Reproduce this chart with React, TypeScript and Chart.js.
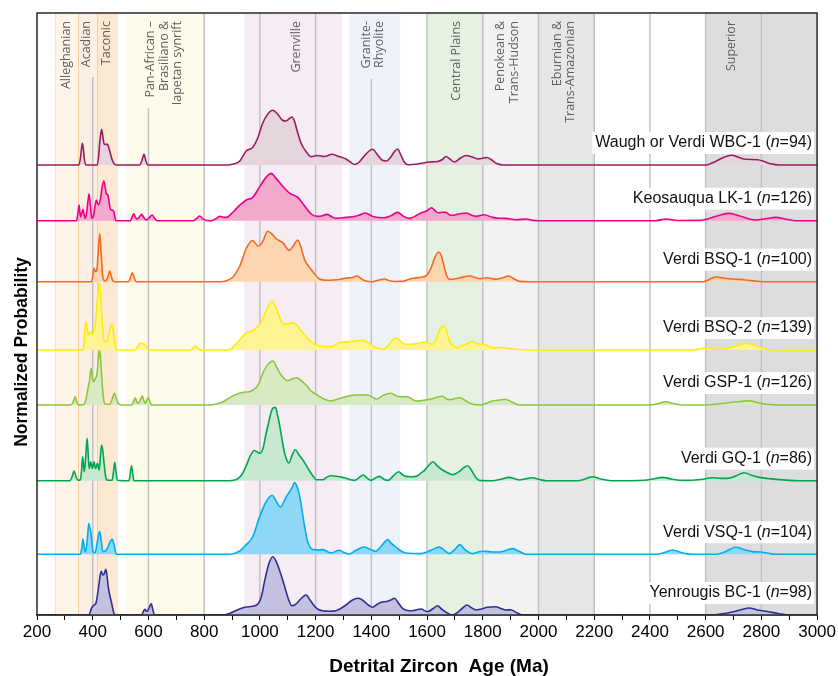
import React, { useEffect, useRef } from 'react';
import { Chart, registerables } from 'chart.js';

Chart.register(...registerables);

// ---------- data ----------
const ageMin = 200;
const ageMax = 3000;

const sampleNames = [
  'Waugh or Verdi WBC-1',
  'Keosauqua LK-1',
  'Verdi BSQ-1',
  'Verdi BSQ-2',
  'Verdi GSP-1',
  'Verdi GQ-1',
  'Verdi VSQ-1',
  'Yenrougis BC-1',
];
const sampleCounts = [94, 126, 100, 139, 126, 86, 104, 98];

// vertical offset of each stacked curve (in the shared probability units)
const rowOffsets = [450, 394.3, 333.3, 265, 210, 134.3, 60.7, 0];

// [age (Ma), normalized probability]
const wbc1: [number, number][] = [
  [200, 0], [350, 0], [356, 7], [360, 17], [363, 21.7], [366, 17], [370, 6], [375, 0],
  [416, 0], [421, 8], [426, 25], [432, 35.7], [437, 27], [441, 21], [446, 20.5], [452, 21], [458, 17], [463, 12], [470, 5], [478, 1], [486, 0],
  [568, 0], [576, 4], [584, 10.7], [591, 4], [598, 0],
  [880, 0], [905, 1], [928, 4], [951, 14], [974, 17.5], [992, 26.7], [1010, 41.7], [1028, 50.7], [1046, 54.7], [1064, 50.7], [1080, 45], [1092, 44], [1104, 46], [1115, 48], [1124, 44], [1132, 36], [1148, 21.7], [1166, 13.3], [1184, 8.3], [1208, 9.5], [1231, 8.5], [1259, 10.7], [1285, 8.3], [1309, 6], [1325, 3], [1339, 0.5], [1355, 2.5], [1372, 8], [1390, 13.5], [1405, 15.7], [1420, 11], [1438, 5], [1455, 4], [1470, 8], [1482, 13], [1494, 16], [1506, 10], [1518, 3], [1532, 0.3], [1560, 0.7], [1585, 2], [1608, 3], [1638, 3.5], [1655, 5.5], [1668, 8.5], [1682, 6], [1698, 3], [1718, 6.5], [1740, 9.5], [1762, 8], [1785, 6], [1815, 7.5], [1832, 5], [1850, 1.5], [1875, 0],
  [2600, 0], [2625, 2.3], [2660, 7], [2693, 9.7], [2720, 7.5], [2744, 5.7], [2786, 5.3], [2810, 3.5], [2830, 1.5], [2864, 0], [3000, 0],
];

const lk1: [number, number][] = [
  [200, 0], [342, 0], [347, 8], [351, 15.7], [354, 8], [357, 4], [361, 8], [365, 11.3], [369, 6], [373, 2.3], [378, 8], [383, 20], [387, 26.7], [392, 14], [397, 2.3], [403, 5], [408, 14], [413, 20.7], [418, 17], [421, 15.7], [428, 22], [434, 34], [440, 40], [445, 33], [449, 27], [454, 26], [458, 20], [462, 13], [467, 10.7], [472, 10.5], [476, 9], [480, 3], [484, 0],
  [535, 0], [541, 3.5], [547, 7], [553, 3.5], [559, 1.7], [567, 3.5], [575, 6.3], [584, 3], [593, 0.7], [603, 3], [613, 5.7], [622, 2.5], [631, 0],
  [760, 0], [772, 2], [784, 4.7], [795, 2], [805, 0.5], [826, 0], [845, 2.5], [856, 4.3], [868, 3.5], [880, 3.3], [898, 7], [916, 12.3], [934, 17], [951, 20.7], [974, 23.3], [998, 33.3], [1022, 43.3], [1040, 47.3], [1058, 42.3], [1082, 34.3], [1106, 27.7], [1136, 23.3], [1160, 15], [1184, 6.7], [1208, 4.3], [1225, 5], [1240, 6.3], [1258, 4], [1273, 2.3], [1297, 3], [1333, 4], [1355, 5.5], [1378, 7.7], [1405, 4.3], [1447, 3], [1470, 5], [1494, 8.3], [1515, 4.5], [1536, 2.3], [1560, 5], [1578, 7.7], [1600, 10], [1616, 13], [1632, 9], [1644, 7.7], [1656, 8.5], [1668, 8.3], [1685, 5.5], [1698, 5.7], [1720, 7], [1740, 7.7], [1760, 5.5], [1776, 4.3], [1805, 6], [1835, 3.3], [1860, 2.5], [1883, 2.3], [1919, 1], [1957, 1.7], [1980, 0.3], [2003, 0],
  [2420, 0], [2457, 1.7], [2500, 0.2], [2580, 0.3], [2613, 2.3], [2650, 5.5], [2685, 7.3], [2720, 5], [2760, 1.5], [2780, 0.7], [2815, 2], [2852, 3.3], [2890, 1.5], [2924, 0], [3000, 0],
];

const bsq1: [number, number][] = [
  [200, 0], [395, 0], [400, 5], [405, 13.3], [410, 10], [415, 12], [420, 30], [425, 48.3], [430, 30], [435, 7], [440, 1.5], [446, 0.5], [452, 3], [457, 7], [461, 10.7], [466, 6], [471, 1.5], [479, 0],
  [528, 0], [535, 4], [542, 9], [549, 4], [556, 0],
  [860, 0], [880, 1], [904, 5], [928, 15.7], [951, 33], [973, 41.2], [995, 35.5], [1010, 40], [1028, 50.5], [1045, 47], [1058, 43], [1082, 39], [1106, 31.3], [1120, 36], [1136, 41.7], [1148, 34], [1160, 22.3], [1184, 12.3], [1213, 3], [1240, 1.5], [1261, 1.7], [1290, 2.5], [1309, 3.7], [1330, 4], [1348, 5.7], [1362, 3.5], [1375, 1.3], [1405, 0], [1425, 1.5], [1447, 2.7], [1465, 1], [1482, 0.2], [1512, 0.3], [1535, 2.5], [1554, 3.7], [1580, 4.5], [1596, 5.7], [1612, 12], [1626, 23], [1642, 29.7], [1650, 27], [1658, 19], [1668, 8], [1680, 2.3], [1716, 3.7], [1752, 5.7], [1788, 3], [1817, 4], [1847, 2.3], [1872, 4], [1893, 5.7], [1912, 3], [1931, 0.3], [1967, 0],
  [2590, 0], [2615, 2.5], [2637, 4.7], [2665, 3.5], [2696, 2.7], [2744, 1.7], [2780, 0.5], [2804, 0], [3000, 0],
];

const bsq2: [number, number][] = [
  [200, 0], [365, 0], [370, 12], [376, 28.3], [381, 20], [385, 15], [389, 17.5], [393, 17.7], [398, 15], [404, 18], [409, 25], [414, 40], [419, 58], [423, 66.7], [427, 58], [431, 41.7], [436, 20], [440, 8.3], [449, 8.3], [456, 13], [463, 22], [468, 25.7], [473, 20], [477, 11.7], [481, 4], [486, 0],
  [551, 0], [560, 3], [569, 6.7], [580, 6.5], [589, 5], [599, 0],
  [750, 0], [760, 2], [768, 4.3], [776, 2], [786, 0],
  [890, 0], [916, 6.7], [951, 17], [980, 20], [1004, 27.3], [1025, 40.7], [1044, 49], [1060, 40.7], [1075, 30], [1085, 25.7], [1100, 26], [1120, 27.3], [1135, 24], [1154, 17.3], [1184, 8], [1213, 4], [1255, 3.3], [1285, 7.3], [1321, 8.3], [1369, 9.7], [1390, 7], [1405, 4], [1425, 2], [1443, 0.7], [1465, 6], [1480, 11], [1494, 11.7], [1510, 7], [1536, 5.7], [1565, 6.5], [1590, 8], [1620, 5.7], [1635, 12], [1646, 20.7], [1662, 24], [1672, 17], [1680, 9], [1695, 4], [1710, 2.3], [1740, 6], [1764, 8], [1785, 6], [1805, 5.7], [1835, 2.3], [1860, 2.5], [1883, 2], [1919, 0.7], [1967, 0],
  [2560, 0], [2589, 1.7], [2648, 0.7], [2700, 3], [2725, 5.5], [2750, 6.7], [2775, 4.5], [2816, 1], [2852, 0], [3000, 0],
];

const gsp1: [number, number][] = [
  [200, 0], [320, 0], [330, 3], [337, 8.3], [343, 3], [349, 0], [368, 0.5], [375, 5], [383, 16.7], [389, 25], [394, 36.7], [399, 27], [404, 23.3], [410, 27], [415, 30], [420, 45], [424, 55], [428, 48], [432, 30], [436, 14], [441, 3], [447, 0.7], [461, 0.7], [470, 6], [478, 11.7], [485, 6], [491, 1.7], [503, 0],
  [540, 0], [546, 3], [552, 7.3], [558, 3.5], [564, 1.7], [571, 5], [578, 9.3], [584, 4], [588, 1.7], [593, 4], [599, 7.3], [605, 3.5], [611, 0],
  [820, 0], [845, 1.2], [868, 3.3], [904, 9.3], [940, 12.7], [962, 13.3], [975, 15], [992, 19.3], [1016, 35], [1030, 41], [1046, 44], [1060, 38], [1076, 30], [1100, 24.3], [1115, 26], [1132, 27.3], [1150, 24], [1166, 20], [1184, 14], [1202, 10.7], [1230, 6], [1255, 4], [1280, 6], [1309, 8.3], [1345, 10], [1387, 10], [1405, 7.5], [1419, 6], [1445, 10], [1471, 11.7], [1490, 9], [1506, 8.3], [1530, 8.3], [1560, 4], [1614, 6], [1640, 8], [1654, 8.7], [1670, 6], [1686, 5.3], [1700, 6.5], [1718, 7.3], [1740, 4], [1764, 0.7], [1794, 0], [1815, 2], [1835, 4], [1860, 5], [1881, 5.7], [1905, 3], [1931, 0],
  [2400, 0], [2430, 1.5], [2457, 3.3], [2485, 1.5], [2517, 0], [2600, 0], [2650, 1.2], [2696, 2.7], [2730, 3.6], [2756, 4.3], [2785, 2.5], [2816, 0.7], [2876, 0], [3000, 0],
];

const gq1: [number, number][] = [
  [200, 0], [318, 0], [326, 4], [333, 9.7], [340, 4], [347, 0.5], [356, 1], [360, 10], [364, 24], [367, 15], [370, 9], [375, 25], [380, 42.3], [384, 25], [387, 12.3], [390, 15], [393, 19], [396, 15], [399, 12.3], [402, 16], [405, 19], [408, 14], [411, 12.3], [414, 15], [417, 17.3], [420, 14], [423, 10.7], [427, 22], [432, 35.7], [437, 28], [442, 14], [446, 5], [450, 0.7], [470, 0.5], [475, 10], [479, 18.3], [483, 10], [488, 0.5],
  [530, 0], [535, 7], [539, 15], [543, 8], [548, 0],
  [880, 0], [916, 1.3], [935, 6], [951, 15], [966, 25], [980, 30.2], [1000, 27.5], [1012, 33], [1022, 46.7], [1032, 59], [1040, 68.3], [1048, 73], [1056, 73.3], [1063, 66], [1070, 56.7], [1079, 42], [1088, 28.3], [1096, 21], [1104, 17.7], [1115, 25], [1127, 31], [1140, 26], [1154, 21], [1166, 15.5], [1178, 10], [1190, 5], [1202, 1], [1225, 1], [1240, 3.5], [1255, 5], [1275, 4.5], [1297, 3.3], [1320, 1.5], [1339, 0.3], [1360, 4], [1371, 5.7], [1385, 2.5], [1399, 0.3], [1416, 3], [1429, 4.3], [1445, 1.5], [1459, 0.3], [1480, 5], [1498, 9], [1512, 6], [1524, 4.3], [1545, 4], [1560, 4.3], [1580, 8], [1590, 10], [1605, 15], [1622, 19], [1636, 15], [1650, 11.7], [1670, 8.5], [1692, 6], [1715, 9], [1732, 13], [1746, 15], [1756, 12], [1764, 8.3], [1776, 3], [1787, 0.3], [1835, 0], [1865, 1.5], [1895, 3.3], [1915, 2], [1931, 0.7], [1955, 2], [1979, 3], [2003, 1.3], [2027, 0],
  [2140, 0], [2170, 2], [2194, 4], [2220, 2], [2260, 0], [2380, 0.5], [2415, 2], [2445, 3.3], [2480, 1.5], [2517, 0.3], [2553, 0.5], [2590, 1.5], [2625, 3], [2655, 2.3], [2678, 2.3], [2710, 5], [2738, 8], [2765, 5.5], [2792, 3.3], [2830, 2], [2852, 1.3], [2935, 0], [3000, 0],
];

const vsq1: [number, number][] = [
  [200, 0], [356, 0], [361, 7], [365, 15.3], [369, 8], [373, 2.7], [377, 6], [382, 20], [386, 31], [390, 26], [393, 22.7], [397, 12], [401, 2.7], [408, 1.5], [414, 8], [420, 18], [425, 22.7], [430, 15], [436, 2.7], [443, 3], [449, 4.3], [456, 8], [463, 13], [470, 15.3], [474, 12], [477, 9.3], [481, 3], [486, 0],
  [890, 0], [928, 3.3], [951, 9.7], [974, 17.3], [998, 36.7], [1022, 52.3], [1044, 59], [1060, 52.3], [1074, 47.3], [1094, 57.3], [1106, 62.3], [1118, 68], [1124, 71.7], [1130, 70], [1136, 65.7], [1145, 55], [1154, 39], [1163, 24], [1172, 12.3], [1190, 4.7], [1210, 4.2], [1225, 4.7], [1255, 1.3], [1285, 4], [1300, 2], [1321, 0.3], [1345, 4], [1375, 7.3], [1395, 5], [1414, 3], [1435, 8], [1450, 13], [1459, 14.7], [1470, 11.5], [1488, 7.3], [1505, 3.5], [1524, 1.3], [1578, 0.7], [1614, 4], [1644, 7.3], [1660, 4.5], [1680, 0.7], [1700, 5], [1718, 9.7], [1735, 5], [1764, 0.7], [1790, 2.8], [1811, 3], [1835, 2.3], [1859, 2.3], [1885, 4], [1907, 5.7], [1930, 3], [1955, 0],
  [2420, 0], [2450, 1.5], [2481, 4.3], [2515, 1.5], [2553, 0], [2640, 0], [2670, 2.5], [2708, 7], [2740, 4.5], [2768, 2.7], [2798, 2.3], [2825, 1], [2852, 0], [3000, 0],
];

const bc1: [number, number][] = [
  [200, 0], [387, 0], [391, 3], [395, 6.3], [403, 9.7], [411, 11.3], [416, 18], [422, 29.7], [427, 40], [431, 43.7], [436, 40], [441, 41], [447, 45.7], [451, 40], [455, 29.7], [461, 20], [467, 13], [473, 5], [479, 0],
  [575, 0], [581, 3], [587, 5.7], [592, 4], [596, 3.7], [602, 7], [610, 11.3], [616, 5], [622, 0],
  [870, 0], [895, 2], [916, 4.7], [951, 8], [987, 9.7], [1005, 18], [1016, 32.7], [1026, 45], [1034, 52.7], [1046, 58.3], [1060, 52.7], [1075, 41], [1088, 29.3], [1100, 18], [1115, 9.3], [1125, 10], [1136, 12.7], [1150, 17], [1166, 20], [1180, 15], [1196, 8.7], [1210, 5.5], [1225, 4.3], [1250, 3.8], [1273, 4.3], [1290, 6.5], [1309, 10], [1330, 14.5], [1351, 16.7], [1365, 15.5], [1378, 12.7], [1392, 9.5], [1405, 7.7], [1420, 10.5], [1435, 12.7], [1455, 13.5], [1470, 15], [1483, 16.7], [1497, 12], [1512, 6.7], [1530, 4.5], [1548, 4.3], [1578, 6], [1602, 3.3], [1622, 6.5], [1638, 9.3], [1652, 6], [1668, 2.7], [1692, 0], [1710, 2.7], [1728, 7], [1743, 10], [1758, 7.5], [1776, 5], [1795, 6], [1817, 7.7], [1847, 8.3], [1865, 6.5], [1883, 5], [1901, 5.3], [1919, 2.7], [1943, 0],
  [2620, 0], [2660, 1.2], [2696, 3], [2730, 5.5], [2756, 7], [2785, 5], [2816, 3.7], [2864, 1.3], [2900, 0], [3000, 0],
];

const seriesData = [wbc1, lk1, bsq1, bsq2, gsp1, gq1, vsq1, bc1];

// orogenic / province age ranges (Ma)
const bandFrom = [263, 346, 414, 521, 944, 1321, 1602, 1800, 2000, 2600];
const bandTo = [346, 414, 491, 800, 1295, 1504, 1799, 2000, 2203, 3000];

// band labels: center age and text lines
const bandLabelAges = [305, 379, 451, 657, 1133, 1405, 1704, 1889, 2092, 2691];
const bandLabelLines = [
  ['Alleghanian'],
  ['Acadian'],
  ['Taconic'],
  ['Pan-African \u2013', 'Brasiliano &', 'Iapetan synrift'],
  ['Grenville'],
  ['Granite-', 'Rhyolite'],
  ['Central Plains'],
  ['Penokean &', 'Trans-Hudson'],
  ['Eburnian &', 'Trans-Amazonian'],
  ['Superior'],
];

const gridAges = [400, 600, 800, 1000, 1200, 1400, 1600, 1800, 2000, 2200, 2400, 2600, 2800];

// ---------- styles ----------
const lineColors = ['#9B1D5F', '#EC008C', '#F26A25', '#FFEE00', '#8CC63F', '#00A651', '#00AEEF', '#2E3192'];
const fillColors = ['#E5D6DD', '#F3A9CB', '#FDD5B0', '#FFF494', '#D8EAC4', '#C9E8D2', '#8ED8F6', '#C3C1DF'];
const bandColors = ['#FEF5E8', '#FCEFE3', '#FDE8D2', '#FFFBEA', '#F6EDF4', '#EEF3FB', '#E5F1E1', '#F2F2F2', '#E7E7E7', '#DDDDDD'];
const gridTopPx: Record<number, number> = { 400: 77, 600: 108, 1400: 79 };

const SANS = '"Liberation Sans", Arial, sans-serif';

const backgroundPlugin = {
  id: 'bgBands',
  beforeDraw(chart: any) {
    const { ctx, chartArea: a, scales } = chart;
    const x = scales.x;
    ctx.save();
    bandFrom.forEach((f, i) => {
      const x0 = x.getPixelForValue(f);
      const x1 = x.getPixelForValue(bandTo[i]);
      ctx.fillStyle = bandColors[i];
      ctx.fillRect(x0, a.top, x1 - x0, a.bottom - a.top);
    });
    // thin orange edges of the Paleozoic orogens
    ctx.lineWidth = 1;
    [[263, '#FBE2C6'], [346, '#F6CFA5'], [414, '#F6CFA5']].forEach(([age, c]) => {
      const px = Math.round(x.getPixelForValue(age as number)) + 0.5;
      ctx.strokeStyle = c as string;
      ctx.beginPath();
      ctx.moveTo(px, a.top);
      ctx.lineTo(px, a.bottom);
      ctx.stroke();
    });
    // grid lines
    ctx.strokeStyle = '#C2C2C2';
    ctx.lineWidth = 1.5;
    gridAges.forEach((g) => {
      const px = x.getPixelForValue(g);
      const top = gridTopPx[g] ?? a.top;
      ctx.beginPath();
      ctx.moveTo(px, top);
      ctx.lineTo(px, a.bottom);
      ctx.stroke();
    });
    // rotated band labels
    ctx.fillStyle = '#606060';
    ctx.font = '12.5px "Open Sans", "Noto Sans", sans-serif';
    bandLabelAges.forEach((age, i) => {
      const lines = bandLabelLines[i];
      const cx = x.getPixelForValue(age);
      const n = lines.length;
      lines.forEach((t, j) => {
        const lx = cx + (j - (n - 1) / 2) * 13.5;
        ctx.save();
        ctx.translate(lx, 21);
        ctx.rotate(-Math.PI / 2);
        ctx.textAlign = 'right';
        ctx.textBaseline = 'middle';
        ctx.fillText(t, 0, 0);
        ctx.restore();
      });
    });
    ctx.restore();
  },
};

const overlayPlugin = {
  id: 'overlay',
  afterDatasetsDraw(chart: any) {
    const { ctx, chartArea: a, scales } = chart;
    const y = scales.y;
    ctx.save();
    // sample labels
    ctx.textBaseline = 'middle';
    ctx.textAlign = 'left';
    sampleNames.forEach((name, i) => {
      const cy = y.getPixelForValue(rowOffsets[i]) - 22;
      const p1 = name + ' (';
      const p2 = 'n';
      const p3 = '=' + sampleCounts[i] + ')';
      ctx.font = '16px ' + SANS;
      const w1 = ctx.measureText(p1).width;
      const w3 = ctx.measureText(p3).width;
      ctx.font = 'italic 16px ' + SANS;
      const w2 = ctx.measureText(p2).width;
      const right = a.right - 5;
      const start = right - (w1 + w2 + w3);
      ctx.fillStyle = '#FFFFFF';
      ctx.fillRect(start - 3, cy - 11, right - start + 5, 22);
      ctx.fillStyle = '#111111';
      ctx.font = '16px ' + SANS;
      ctx.fillText(p1, start, cy);
      ctx.font = 'italic 16px ' + SANS;
      ctx.fillText(p2, start + w1, cy);
      ctx.font = '16px ' + SANS;
      ctx.fillText(p3, start + w1 + w2, cy);
    });
    // frame
    ctx.strokeStyle = '#2A2A2A';
    ctx.lineWidth = 1.5;
    ctx.strokeRect(a.left, a.top, a.right - a.left, a.bottom - a.top);
    ctx.restore();
  },
  afterDraw(chart: any) {
    const { ctx } = chart;
    ctx.save();
    ctx.fillStyle = '#000';
    ctx.textAlign = 'center';
    ctx.textBaseline = 'middle';
    ctx.font = 'bold 19px ' + SANS;
    ctx.fillText('Detrital Zircon  Age (Ma)', 439, 667);
    ctx.translate(22, 352);
    ctx.rotate(-Math.PI / 2);
    ctx.font = 'bold 17.5px ' + SANS;
    ctx.fillText('Normalized Probability', 0, 0);
    ctx.restore();
  },
};

export default function App() {
  const ref = useRef<HTMLCanvasElement | null>(null);
  useEffect(() => {
    if (!ref.current) return;
    const chart = new Chart(ref.current, {
      type: 'line',
      data: {
        datasets: seriesData.map((pts, i) => ({
          label: sampleNames[i],
          data: pts.map(([age, p]) => ({ x: age, y: rowOffsets[i] + p })),
          borderColor: lineColors[i],
          backgroundColor: fillColors[i],
          fill: { value: rowOffsets[i] },
          borderWidth: 1.6,
          pointRadius: 0,
          cubicInterpolationMode: 'monotone' as const,
        })),
      },
      options: {
        animation: false,
        responsive: false,
        maintainAspectRatio: false,
        layout: { padding: { left: 37, right: 20, top: 13, bottom: 0 } },
        plugins: { legend: { display: false }, tooltip: { enabled: false } },
        scales: {
          x: {
            type: 'linear',
            min: ageMin,
            max: ageMax,
            afterFit: (s: any) => {
              s.height = 61;
            },
            ticks: {
              stepSize: 100,
              autoSkip: false,
              maxRotation: 0,
              padding: 2,
              color: '#000',
              font: { family: SANS, size: 17 },
              callback: (v: any) => (Number(v) % 200 === 0 ? String(v) : ''),
            },
            grid: { drawOnChartArea: false, drawTicks: true, tickLength: 5, color: '#000', lineWidth: 1 },
            border: { display: true, color: '#2A2A2A', width: 1.5 },
          },
          y: { display: false, min: 0, max: 602 },
        },
      },
      plugins: [backgroundPlugin, overlayPlugin],
    } as any);
    return () => chart.destroy();
  }, []);
  return (
    <div style={{ position: 'fixed', left: 0, top: 0, width: 838, height: 676, background: '#fff' }}>
      <canvas ref={ref} width={838} height={676} style={{ display: 'block' }} />
    </div>
  );
}
